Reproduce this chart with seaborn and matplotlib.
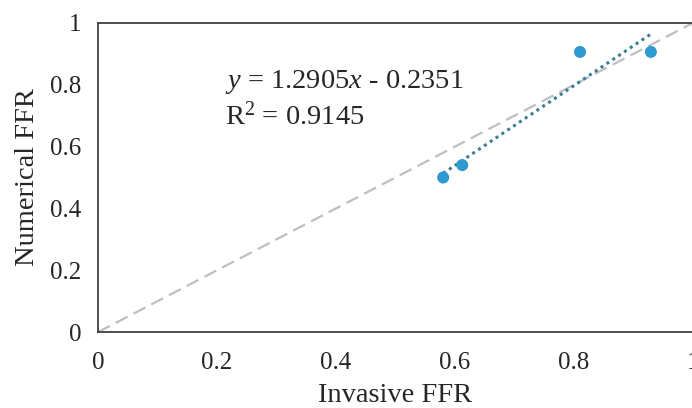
import matplotlib
matplotlib.use("Agg")
import matplotlib.pyplot as plt
import seaborn as sns
import numpy as np
import pandas as pd

# values
invasive_ffr = [0.58, 0.612, 0.81, 0.929]
numerical_ffr = [0.50, 0.54, 0.906, 0.906]
slope = 1.2905
intercept = -0.2351
r_squared = 0.9145
ticks = [0, 0.2, 0.4, 0.6, 0.8, 1]
tick_labels = ["0", "0.2", "0.4", "0.6", "0.8", "1"]

df = pd.DataFrame({"Invasive FFR": invasive_ffr, "Numerical FFR": numerical_ffr})

sns.set_style("white")
plt.rcParams["font.family"] = ["Liberation Serif", "DejaVu Serif"]
plt.rcParams["mathtext.fontset"] = "custom"
plt.rcParams["mathtext.rm"] = "Liberation Serif"
plt.rcParams["mathtext.it"] = "Liberation Serif:italic"

fig = plt.figure(figsize=(6.92, 4.08), dpi=100)
ax = fig.add_axes([0.1416, 0.186, 0.86, 0.758])

# identity line
ax.plot([0, 1], [0, 1], color="#BFBFBF", linestyle=(0, (6, 3)), linewidth=1.6, zorder=1)

# linear trend line over the data range
xs = np.array([min(invasive_ffr), max(invasive_ffr)])
ax.plot(xs, slope * xs + intercept, color="#3C7D93", linestyle=(0, (1, 1.3)),
        linewidth=2.2, zorder=2)

sns.scatterplot(data=df, x="Invasive FFR", y="Numerical FFR", ax=ax,
                color="#2E9AD0", s=75, edgecolor="none", zorder=3)

ax.text(0.213, 0.79, f"$y$ = {slope}$x$ - {abs(intercept)}", fontsize=20.5)
ax.text(0.213, 0.67, f"R$^{{\\mathregular{{2}}}}$ = {r_squared}", fontsize=20.5)

ax.set_xlim(0, 1)
ax.set_ylim(0, 1)
ax.set_xticks(ticks)
ax.set_xticklabels(tick_labels)
ax.set_yticks(ticks)
ax.set_yticklabels(tick_labels)
ax.tick_params(direction="in", length=4, width=1, color="#404040",
               labelsize=18, pad=12)
ax.tick_params(axis="x", pad=14)
ax.set_xlabel("Invasive FFR", fontsize=20.5, labelpad=7)
ax.set_ylabel("Numerical FFR", fontsize=20.5, labelpad=7)
for side in ["left", "bottom", "top", "right"]:
    ax.spines[side].set_color("#404040")
    ax.spines[side].set_linewidth(1.3)

fig.savefig("out.png", dpi=100)
